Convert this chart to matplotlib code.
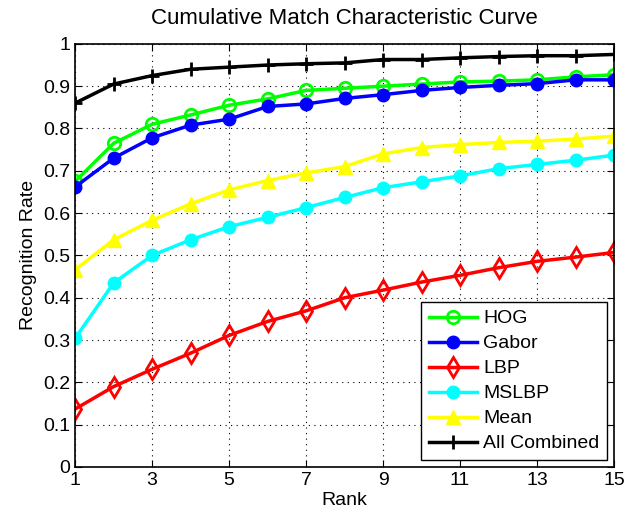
import matplotlib
matplotlib.use("Agg")
import matplotlib.pyplot as plt

plt.rcParams['font.family'] = ['Liberation Sans', 'DejaVu Sans']

ranks = list(range(1, 16))
hog = [0.675, 0.765, 0.81, 0.832, 0.855, 0.87, 0.89, 0.895, 0.9, 0.905, 0.91, 0.912, 0.915, 0.922, 0.927]
gabor = [0.662, 0.73, 0.778, 0.808, 0.822, 0.852, 0.858, 0.871, 0.88, 0.89, 0.897, 0.902, 0.906, 0.915, 0.915]
lbp = [0.137, 0.19, 0.231, 0.269, 0.311, 0.344, 0.369, 0.4, 0.418, 0.437, 0.453, 0.471, 0.486, 0.496, 0.507]
mslbp = [0.304, 0.435, 0.5, 0.537, 0.568, 0.59, 0.613, 0.637, 0.66, 0.674, 0.688, 0.705, 0.715, 0.725, 0.737]
mean = [0.466, 0.537, 0.583, 0.622, 0.655, 0.677, 0.695, 0.71, 0.74, 0.755, 0.762, 0.767, 0.77, 0.775, 0.782]
combined = [0.86, 0.905, 0.925, 0.94, 0.945, 0.95, 0.953, 0.955, 0.963, 0.963, 0.967, 0.97, 0.972, 0.972, 0.975]

fig = plt.figure(figsize=(6.37, 5.16), dpi=100)
ax = fig.add_axes([0.118, 0.095, 0.846, 0.82])

lw = 2.5
ax.plot(ranks, hog, color='#00ff00', lw=lw, marker='o', ms=9, mfc='none', mew=2, label='HOG')
ax.plot(ranks, gabor, color='#0000ff', lw=lw, marker='o', ms=9, label='Gabor')
ax.plot(ranks, lbp, color='#ff0000', lw=lw, marker='d', ms=10, mfc='none', mew=2, label='LBP')
ax.plot(ranks, mslbp, color='#00ffff', lw=lw, marker='o', ms=9, label='MSLBP')
ax.plot(ranks, mean, color='#ffff00', lw=lw, marker='^', ms=10, label='Mean')
ax.plot(ranks, combined, color='black', lw=lw, marker='+', ms=10, mew=2, label='All Combined')

ax.set_xlim(1, 15)
ax.set_ylim(0, 1)
ax.set_xticks(range(1, 16, 2))
ax.set_yticks([i / 10 for i in range(11)])
ax.set_yticklabels(['0', '0.1', '0.2', '0.3', '0.4', '0.5', '0.6', '0.7', '0.8', '0.9', '1'])
ax.tick_params(direction='in', labelsize=14, length=5, top=True, right=True)
ax.grid(True, color='black', linestyle=(0, (1, 4)), linewidth=0.8)
for s in ax.spines.values():
    s.set_linewidth(1.2)

ax.set_xlabel('Rank', fontsize=14, labelpad=2)
ax.set_ylabel('Recognition Rate', fontsize=14)
ax.set_title('Cumulative Match Characteristic Curve', fontsize=16, pad=14)

leg = ax.legend(loc='lower right', fontsize=14, fancybox=False, framealpha=1,
                edgecolor='black', handlelength=2.5, borderaxespad=0.35,
                labelspacing=0.38, handletextpad=0.3, borderpad=0.4)
leg.get_frame().set_linewidth(1.0)

fig.savefig('out.png', dpi=100)
